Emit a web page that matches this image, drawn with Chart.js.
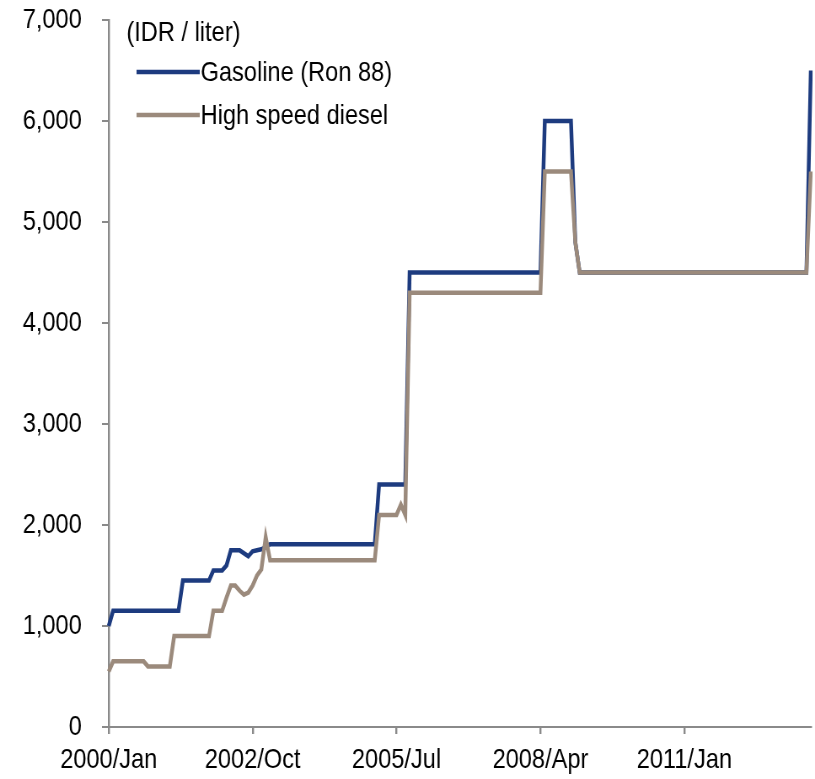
<!DOCTYPE html>
<html>
<head>
<meta charset="utf-8">
<script src="https://cdn.jsdelivr.net/npm/chart.js@4"></script>
<style>
  html, body { margin: 0; padding: 0; background: #fff; }
  #wrap { width: 815px; height: 779px; overflow: hidden; }
  /* the original uses a narrow face; draw wider and squeeze horizontally */
  #chart { width: 815px; height: 779px; display: block; }
</style>
</head>
<body>
<div id="wrap"><canvas id="chart" width="967" height="779" style="width:815px;height:779px"></canvas></div>
<script>
// months from 2000/Jan to 2013/Jun
const monthNames = ["Jan", "Feb", "Mar", "Apr", "May", "Jun", "Jul", "Aug", "Sep", "Oct", "Nov", "Dec"];
const months = [];
for (let y = 2000; y <= 2013; y++) {
  for (let m = 0; m < 12; m++) {
    if (y === 2013 && m > 5) break;
    months.push(y + "/" + monthNames[m]);
  }
}

const unitLabel = "(IDR / liter)";
const tickEvery = 33; // 2000/Jan, 2002/Oct, 2005/Jul, 2008/Apr, 2011/Jan

// IDR per liter, one row per year
const gasoline = [
  1000, 1150, 1150, 1150, 1150, 1150, 1150, 1150, 1150, 1150, 1150, 1150,
  1150, 1150, 1150, 1150, 1150, 1450, 1450, 1450, 1450, 1450, 1450, 1450,
  1550, 1550, 1550, 1600, 1750, 1750, 1750, 1720, 1690, 1740, 1750, 1760,
  1780, 1810, 1810, 1810, 1810, 1810, 1810, 1810, 1810, 1810, 1810, 1810,
  1810, 1810, 1810, 1810, 1810, 1810, 1810, 1810, 1810, 1810, 1810, 1810,
  1810, 1810, 2400, 2400, 2400, 2400, 2400, 2400, 2400, 4500, 4500, 4500,
  4500, 4500, 4500, 4500, 4500, 4500, 4500, 4500, 4500, 4500, 4500, 4500,
  4500, 4500, 4500, 4500, 4500, 4500, 4500, 4500, 4500, 4500, 4500, 4500,
  4500, 4500, 4500, 4500, 6000, 6000, 6000, 6000, 6000, 6000, 6000, 4800,
  4500, 4500, 4500, 4500, 4500, 4500, 4500, 4500, 4500, 4500, 4500, 4500,
  4500, 4500, 4500, 4500, 4500, 4500, 4500, 4500, 4500, 4500, 4500, 4500,
  4500, 4500, 4500, 4500, 4500, 4500, 4500, 4500, 4500, 4500, 4500, 4500,
  4500, 4500, 4500, 4500, 4500, 4500, 4500, 4500, 4500, 4500, 4500, 4500,
  4500, 4500, 4500, 4500, 4500, 6500
];

const diesel = [
  550, 650, 650, 650, 650, 650, 650, 650, 650, 600, 600, 600,
  600, 600, 600, 900, 900, 900, 900, 900, 900, 900, 900, 900,
  1150, 1150, 1150, 1280, 1400, 1400, 1350, 1310, 1330, 1400, 1500, 1560,
  1880, 1650, 1650, 1650, 1650, 1650, 1650, 1650, 1650, 1650, 1650, 1650,
  1650, 1650, 1650, 1650, 1650, 1650, 1650, 1650, 1650, 1650, 1650, 1650,
  1650, 1650, 2100, 2100, 2100, 2100, 2100, 2200, 2100, 4300, 4300, 4300,
  4300, 4300, 4300, 4300, 4300, 4300, 4300, 4300, 4300, 4300, 4300, 4300,
  4300, 4300, 4300, 4300, 4300, 4300, 4300, 4300, 4300, 4300, 4300, 4300,
  4300, 4300, 4300, 4300, 5500, 5500, 5500, 5500, 5500, 5500, 5500, 4800,
  4500, 4500, 4500, 4500, 4500, 4500, 4500, 4500, 4500, 4500, 4500, 4500,
  4500, 4500, 4500, 4500, 4500, 4500, 4500, 4500, 4500, 4500, 4500, 4500,
  4500, 4500, 4500, 4500, 4500, 4500, 4500, 4500, 4500, 4500, 4500, 4500,
  4500, 4500, 4500, 4500, 4500, 4500, 4500, 4500, 4500, 4500, 4500, 4500,
  4500, 4500, 4500, 4500, 4500, 5500
];

const FONT = "'Liberation Sans', Arial, sans-serif";
const FONT_SIZE = 28;
const AXIS_COLOR = "#8a8a8a";

// legend drawn inside the plot, top-left, like the original
// (x values are in canvas units: canvas is 967 wide, shown at 815)
const insideLegend = {
  id: "insideLegend",
  afterDraw(chart) {
    const ctx = chart.ctx;
    ctx.save();
    ctx.font = FONT_SIZE + "px " + FONT;
    ctx.fillStyle = "#000";
    ctx.textBaseline = "middle";
    ctx.textAlign = "left";
    ctx.fillText(unitLabel, 150, 33);
    const rows = [72, 115];
    chart.data.datasets.forEach((ds, i) => {
      const y = rows[i];
      ctx.strokeStyle = ds.borderColor;
      ctx.lineWidth = 4.5;
      ctx.beginPath();
      ctx.moveTo(162, y);
      ctx.lineTo(237, y);
      ctx.stroke();
      ctx.fillText(ds.label, 238, y + 1);
    });
    ctx.restore();
  }
};

new Chart(document.getElementById("chart"), {
  type: "line",
  data: {
    labels: months,
    datasets: [
      {
        label: "Gasoline (Ron 88)",
        data: gasoline,
        borderColor: "#1d3b7f",
        borderWidth: 4.5,
        pointRadius: 0,
        tension: 0,
        order: 1,
      },
      {
        label: "High speed diesel",
        data: diesel,
        borderColor: "#9b8a7c",
        borderWidth: 4.5,
        pointRadius: 0,
        tension: 0,
        order: 0,
      },
    ],
  },
  options: {
    responsive: false,
    animation: false,
    devicePixelRatio: 1,
    locale: "en-US",
    layout: { padding: { top: 20, right: 5, left: 0, bottom: 0 } },
    plugins: {
      legend: { display: false },
      tooltip: { enabled: false },
    },
    scales: {
      x: {
        offset: false,
        grid: { drawOnChartArea: false, drawTicks: true, tickLength: 7, color: AXIS_COLOR, lineWidth: 2.4 },
        border: { color: AXIS_COLOR, width: 2 },
        ticks: {
          autoSkip: false,
          maxRotation: 0,
          padding: 9,
          color: "#000",
          font: { family: FONT, size: FONT_SIZE },
          callback: (v, i) => (i % tickEvery === 0 ? months[i] : null),
        },
        afterFit: (scale) => { scale.height = 52; },
      },
      y: {
        min: 0,
        max: 7000,
        grid: { drawOnChartArea: false, drawTicks: true, tickLength: 8, color: AXIS_COLOR, lineWidth: 2 },
        border: { color: AXIS_COLOR, width: 2.4 },
        ticks: {
          stepSize: 1000,
          padding: 24,
          color: "#000",
          font: { family: FONT, size: FONT_SIZE },
        },
        afterFit: (scale) => {
          scale.width = 129;
          scale.paddingTop = 0;
          scale.paddingBottom = 0;
        },
      },
    },
  },
  plugins: [insideLegend],
});
</script>
</body>
</html>
